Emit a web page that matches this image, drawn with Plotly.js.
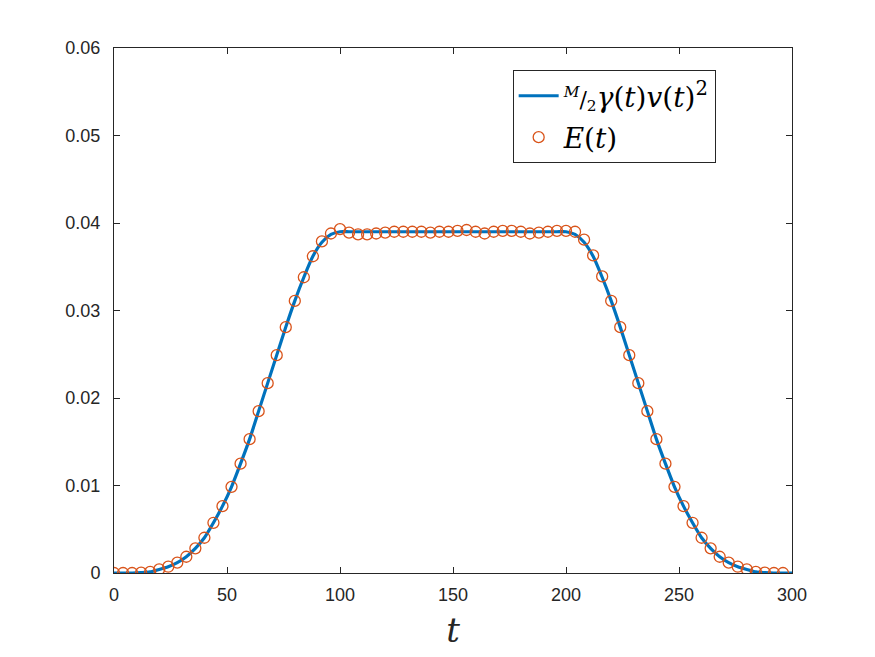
<!DOCTYPE html>
<html>
<head>
<meta charset="utf-8">
<script src="https://cdn.plot.ly/plotly-3.0.1.min.js"></script>
<style>html,body{margin:0;padding:0;background:#fff;}#plot{width:875px;height:657px;}</style>
</head>
<body>
<div id="plot"></div>
<script>
// Time samples of E(t) markers
var tMarkers = [0,4,8,12,16,20,24,28,32,36,40,44,48,52,56,60,64,68,72,76,80,84,88,92,96,
  100,104,108,112,116,120,124,128,132,136,140,144,148,152,156,160,164,168,172,176,180,184,188,192,196,200,204,
  208,212,216,220,224,228,232,236,240,244,248,252,256,260,264,268,272,276,280,284,288,292,296];
// E(t) values
var eValues = [0,0,0,0.00005,0.00012,0.00042,0.00072,0.00118,0.00186,0.00282,0.00403,0.00574,0.00764,0.00985,0.0125,0.0153,0.0185,0.0217,0.0249,0.0281,0.0311,0.0338,0.0362,0.0379,0.0388,
  0.0393,0.0389,0.0387,0.0387,0.0388,0.0389,0.0390,0.0390,0.0390,0.0390,0.0389,0.0390,0.0390,0.0391,0.0392,0.0390,0.0388,0.0390,0.0391,0.0391,0.0390,0.0388,0.0389,0.0390,0.0391,0.0391,0.0390,
  0.0381,0.0363,0.0339,0.0311,0.0281,0.0249,0.0217,0.0185,0.0153,0.0125,0.00985,0.00764,0.00574,0.00403,0.00282,0.00186,0.00118,0.00072,0.00042,0.00012,0.00005,0,0];
// Time samples of the model curve
var tCurve = [0,4,8,12,16,20,24,28,32,36,40,44,48,52,56,60,64,68,72,76,80,84,88,92,96,
  100,104,108,112,116,120,124,128,132,136,140,144,148,152,156,160,164,168,172,176,180,184,188,192,196,200,
  204,208,212,216,220,224,228,232,236,240,244,248,252,256,260,264,268,272,276,280,284,288,292,296,300];
// (M/2) gamma(t) v(t)^2 values
var curveValues = [0,0,0,0.00004,0.00012,0.00040,0.00072,0.00118,0.00186,0.00282,0.00403,0.00574,0.00764,0.00985,0.0125,0.0153,0.0185,0.0217,0.0249,0.0281,0.0311,0.0338,0.0362,0.0378,0.0387,
  0.0390,0.0390,0.0390,0.0390,0.0390,0.0390,0.0390,0.0390,0.0390,0.0390,0.0390,0.0390,0.0390,0.0390,0.0390,0.0390,0.0390,0.0390,0.0390,0.0390,0.0390,0.0390,0.0390,0.0390,0.0390,0.0390,
  0.0387,0.0378,0.0362,0.0338,0.0311,0.0281,0.0249,0.0217,0.0185,0.0153,0.0125,0.00985,0.00764,0.00574,0.00403,0.00282,0.00186,0.00118,0.00072,0.00040,0.00012,0.00004,0,0,0];
var xTicks = [0,50,100,150,200,250,300];
var yTicks = [0,0.01,0.02,0.03,0.04,0.05,0.06];
var yTickLabels = ['0','0.01','0.02','0.03','0.04','0.05','0.06'];

var serif = "'DejaVu Serif', 'Liberation Serif', serif";
var traces = [
  {x: tCurve, y: curveValues, type: 'scatter', mode: 'lines', legendgroup: 'a',
   line: {color: '#0072BD', width: 3.2, shape: 'spline', smoothing: 0.6},
   name: '<span style="font-size:22px"><sup><i>M</i></sup>/<sub>2</sub></span><i>γ</i>(<i>t</i>)<i>v</i>(<i>t</i>)<sup>2</sup>'},
  {x: tMarkers, y: eValues, type: 'scatter', mode: 'markers', legendgroup: 'b',
   marker: {symbol: 'circle-open', size: 11, color: '#D95319', line: {width: 1.3, color: '#D95319'}},
   name: '<i>E</i>(<i>t</i>)'}
];
var axisCommon = {
  showline: true, mirror: 'ticks', linecolor: '#262626', linewidth: 1,
  ticks: 'inside', ticklen: 6, tickcolor: '#262626', showgrid: false, zeroline: false,
  tickfont: {family: "'Liberation Sans', Arial, sans-serif", size: 18, color: '#262626'}
};
var layout = {
  width: 875, height: 657,
  margin: {l: 114, r: 83, t: 48, b: 84},
  paper_bgcolor: '#ffffff', plot_bgcolor: '#ffffff',
  showlegend: true,
  xaxis: Object.assign({}, axisCommon, {
    range: [0, 300], tickmode: 'array', tickvals: xTicks, ticktext: xTicks.map(String),
    ticklabelstandoff: 5,
    title: {text: '<i>t</i>', font: {family: serif, size: 34, color: '#262626'}, standoff: 14}
  }),
  yaxis: Object.assign({}, axisCommon, {
    range: [0, 0.06], tickmode: 'array', tickvals: yTicks, ticktext: yTickLabels,
    ticklabelstandoff: 9
  }),
  legend: {
    x: 0.588, y: 0.958, xanchor: 'left', yanchor: 'top',
    bgcolor: '#ffffff', bordercolor: '#262626', borderwidth: 1,
    font: {family: serif, size: 28, color: '#000000'},
    tracegroupgap: 2, itemwidth: 40
  }
};
Plotly.newPlot('plot', traces, layout, {displayModeBar: false, staticPlot: true});
</script>
</body>
</html>
